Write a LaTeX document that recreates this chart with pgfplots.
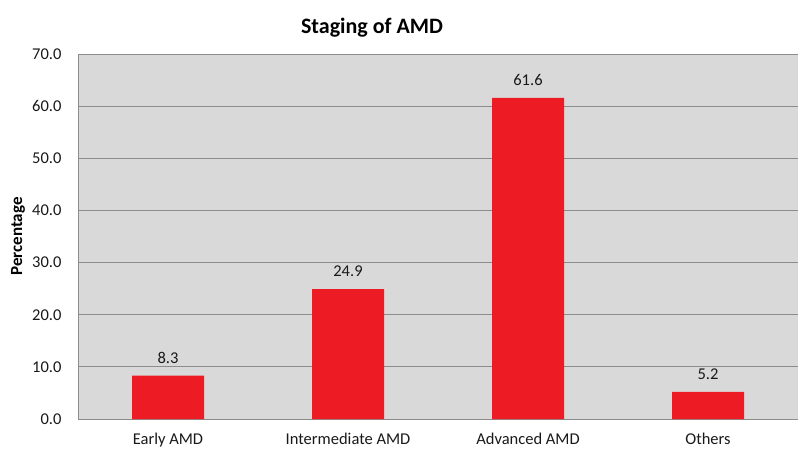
\documentclass[border=0pt]{standalone}
\usepackage{pgfplots}
\pgfplotsset{compat=1.18}
\usepackage{fontspec}
\setmainfont{Carlito}
\definecolor{bgray}{HTML}{D9D9D9}
\definecolor{barred}{HTML}{ED1C24}
\definecolor{gridc}{HTML}{8C8C8C}
\begin{document}
\begin{tikzpicture}[font=\fontsize{16.5}{19}\selectfont]
  \begin{axis}[
    scale only axis,
    width=720pt, height=365pt,
    xmin=-0.5, xmax=3.5,
    ymin=0, ymax=70,
    ytick={0,10,...,70},
    xtick=data,
    xticklabels={Early AMD, Intermediate AMD, Advanced AMD, Others},
    major tick length=0pt,
    axis background/.style={fill=bgray},
    axis x line*=bottom,
    axis y line*=left,
    axis line style={gridc, line width=1pt, -},
    ymajorgrids,
    grid style={gridc, line width=1pt},
    /pgf/number format/assume math mode=true,
    yticklabel style={/pgf/number format/fixed, /pgf/number format/fixed zerofill, /pgf/number format/precision=1, xshift=-13pt, text=black!90},
    xticklabel style={yshift=-11pt, text=black!90},
    ylabel={\textbf{Percentage}},
    ylabel style={at={(axis description cs:-0.0833,0.5)}, anchor=center, font=\fontsize{17}{20}\selectfont},
    ybar, bar width=72pt,
    nodes near coords,
    nodes near coords style={/pgf/number format/fixed, /pgf/number format/fixed zerofill, /pgf/number format/precision=1, text=black!90, yshift=9pt},
    clip=false,
  ]
    \addplot[fill=barred, draw=none] coordinates {(0,8.3) (1,24.9) (2,61.6) (3,5.2)};
  \end{axis}
  \node[font=\fontsize{22}{26}\selectfont\bfseries] at ([xshift=-66pt, yshift=26pt]current axis.north) {Staging of AMD};
  \pgfresetboundingbox
  \path ([xshift=-78pt, yshift=-31pt]current axis.south west) rectangle ([yshift=54pt]current axis.north east);
\end{tikzpicture}
\end{document}
